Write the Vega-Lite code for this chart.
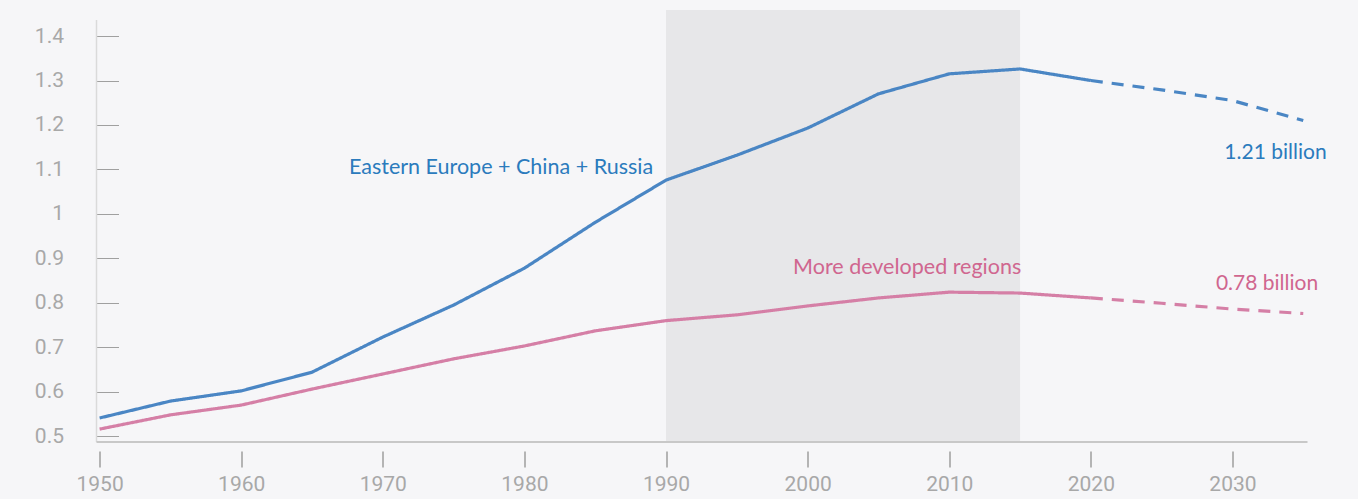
{
  "$schema": "https://vega.github.io/schema/vega-lite/v6.json",
  "width": 1211,
  "height": 432,
  "autosize": {"type": "none"},
  "padding": {"left": 96.5, "top": 10, "right": 50, "bottom": 57},
  "background": "#f6f6f8",
  "config": {"view": {"stroke": null}},
  "data": {"values": [{}]},
  "datasets": {
    "series": [
      {"year": 1950, "value": 0.541, "series": "Eastern Europe + China + Russia", "type": "actual"},
      {"year": 1955, "value": 0.579, "series": "Eastern Europe + China + Russia", "type": "actual"},
      {"year": 1960, "value": 0.602, "series": "Eastern Europe + China + Russia", "type": "actual"},
      {"year": 1965, "value": 0.644, "series": "Eastern Europe + China + Russia", "type": "actual"},
      {"year": 1970, "value": 0.723, "series": "Eastern Europe + China + Russia", "type": "actual"},
      {"year": 1975, "value": 0.795, "series": "Eastern Europe + China + Russia", "type": "actual"},
      {"year": 1980, "value": 0.878, "series": "Eastern Europe + China + Russia", "type": "actual"},
      {"year": 1985, "value": 0.981, "series": "Eastern Europe + China + Russia", "type": "actual"},
      {"year": 1990, "value": 1.076, "series": "Eastern Europe + China + Russia", "type": "actual"},
      {"year": 1995, "value": 1.132, "series": "Eastern Europe + China + Russia", "type": "actual"},
      {"year": 2000, "value": 1.193, "series": "Eastern Europe + China + Russia", "type": "actual"},
      {"year": 2005, "value": 1.270, "series": "Eastern Europe + China + Russia", "type": "actual"},
      {"year": 2010, "value": 1.315, "series": "Eastern Europe + China + Russia", "type": "actual"},
      {"year": 2015, "value": 1.326, "series": "Eastern Europe + China + Russia", "type": "actual"},
      {"year": 2020, "value": 1.300, "series": "Eastern Europe + China + Russia", "type": "actual"},
      {"year": 2020, "value": 1.300, "series": "Eastern Europe + China + Russia", "type": "projected"},
      {"year": 2025, "value": 1.279, "series": "Eastern Europe + China + Russia", "type": "projected"},
      {"year": 2030, "value": 1.255, "series": "Eastern Europe + China + Russia", "type": "projected"},
      {"year": 2035, "value": 1.210, "series": "Eastern Europe + China + Russia", "type": "projected"},
      {"year": 1950, "value": 0.516, "series": "More developed regions", "type": "actual"},
      {"year": 1955, "value": 0.548, "series": "More developed regions", "type": "actual"},
      {"year": 1960, "value": 0.570, "series": "More developed regions", "type": "actual"},
      {"year": 1965, "value": 0.606, "series": "More developed regions", "type": "actual"},
      {"year": 1970, "value": 0.640, "series": "More developed regions", "type": "actual"},
      {"year": 1975, "value": 0.674, "series": "More developed regions", "type": "actual"},
      {"year": 1980, "value": 0.703, "series": "More developed regions", "type": "actual"},
      {"year": 1985, "value": 0.737, "series": "More developed regions", "type": "actual"},
      {"year": 1990, "value": 0.760, "series": "More developed regions", "type": "actual"},
      {"year": 1995, "value": 0.773, "series": "More developed regions", "type": "actual"},
      {"year": 2000, "value": 0.793, "series": "More developed regions", "type": "actual"},
      {"year": 2005, "value": 0.811, "series": "More developed regions", "type": "actual"},
      {"year": 2010, "value": 0.824, "series": "More developed regions", "type": "actual"},
      {"year": 2015, "value": 0.822, "series": "More developed regions", "type": "actual"},
      {"year": 2020, "value": 0.811, "series": "More developed regions", "type": "actual"},
      {"year": 2020, "value": 0.811, "series": "More developed regions", "type": "projected"},
      {"year": 2025, "value": 0.799, "series": "More developed regions", "type": "projected"},
      {"year": 2030, "value": 0.786, "series": "More developed regions", "type": "projected"},
      {"year": 2035, "value": 0.776, "series": "More developed regions", "type": "projected"}
    ]
  },
  "layer": [
    {
      "mark": {"type": "rect", "color": "#e7e7e9"},
      "encoding": {
        "x": {"datum": 1990, "type": "quantitative", "scale": {"domain": [1949.78, 2035.3], "nice": false, "zero": false},
          "axis": {"values": [1950, 1960, 1970, 1980, 1990, 2000, 2010, 2020, 2030], "format": "d", "title": null, "domain": false, "grid": false, "offset": 9, "tickSize": 16, "tickWidth": 2, "tickColor": "#b4b4b4", "labelPadding": 6, "labelFont": "Roboto", "labelFontSize": 21, "labelColor": "#a8a8a8"}},
        "x2": {"datum": 2015},
        "y": {"datum": 0.487, "type": "quantitative", "scale": {"domain": [0.487, 1.4586], "nice": false, "zero": false},
          "axis": {"values": [0.5, 0.6, 0.7, 0.8, 0.9, 1, 1.1, 1.2, 1.3, 1.4], "format": ".1~f", "title": null, "domain": false, "grid": false, "tickSize": -22, "tickWidth": 1, "tickColor": "#a0a0a0", "labelPadding": 55, "labelFont": "Roboto", "labelFontSize": 21, "labelColor": "#a8a8a8"}},
        "y2": {"datum": 1.4586}
      }
    },
    {
      "mark": {"type": "rule", "color": "#dadada", "strokeWidth": 1.5},
      "encoding": {
        "x": {"datum": 1949.78, "type": "quantitative"},
        "y": {"datum": 0.487, "type": "quantitative"},
        "y2": {"datum": 1.436}
      }
    },
    {
      "mark": {"type": "rule", "color": "#c8c8c8", "strokeWidth": 2},
      "encoding": {
        "x": {"datum": 1949.78, "type": "quantitative"},
        "x2": {"datum": 2035.3},
        "y": {"datum": 0.487, "type": "quantitative"}
      }
    },
    {
      "data": {"name": "series"},
      "mark": {"type": "line", "strokeWidth": 3.2, "strokeCap": "butt"},
      "encoding": {
        "x": {"field": "year", "type": "quantitative"},
        "y": {"field": "value", "type": "quantitative"},
        "color": {"field": "series", "type": "nominal", "scale": {"domain": ["Eastern Europe + China + Russia", "More developed regions"], "range": ["#4a86c4", "#d57fa6"]}, "legend": null},
        "strokeDash": {"field": "type", "type": "nominal", "scale": {"domain": ["actual", "projected"], "range": [[1, 0], [12, 9]]}, "legend": null},
        "detail": {"field": "type"}
      }
    },
    {
      "mark": {"type": "text", "text": "Eastern Europe + China + Russia", "font": "Lato", "fontSize": 21.5, "color": "#2b7bbd", "align": "center", "baseline": "middle"},
      "encoding": {"x": {"datum": 1978.35, "type": "quantitative"}, "y": {"datum": 1.103, "type": "quantitative"}}
    },
    {
      "mark": {"type": "text", "text": "More developed regions", "font": "Lato", "fontSize": 21.5, "color": "#d0668f", "align": "center", "baseline": "middle"},
      "encoding": {"x": {"datum": 2007.03, "type": "quantitative"}, "y": {"datum": 0.878, "type": "quantitative"}}
    },
    {
      "mark": {"type": "text", "text": "1.21 billion", "font": "Lato", "fontSize": 21, "color": "#2b7bbd", "align": "center", "baseline": "middle"},
      "encoding": {"x": {"datum": 2033.04, "type": "quantitative"}, "y": {"datum": 1.137, "type": "quantitative"}}
    },
    {
      "mark": {"type": "text", "text": "0.78 billion", "font": "Lato", "fontSize": 21, "color": "#d0668f", "align": "center", "baseline": "middle"},
      "encoding": {"x": {"datum": 2032.44, "type": "quantitative"}, "y": {"datum": 0.842, "type": "quantitative"}}
    }
  ]
}
